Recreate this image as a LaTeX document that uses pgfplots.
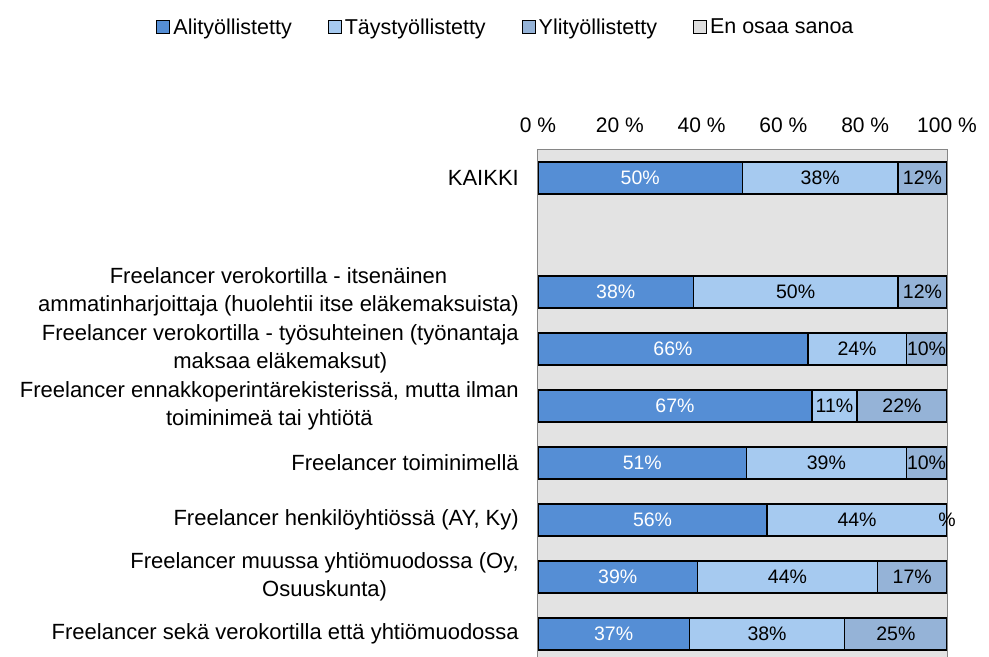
\documentclass[border=0pt]{standalone}
\usepackage{fontspec}
\setmainfont{Liberation Sans}
\usepackage{pgfplots}
\usepackage{pgfplotstable}
\pgfplotsset{compat=1.18}

\definecolor{ali}{RGB}{85,142,213}
\definecolor{tays}{RGB}{166,202,240}
\definecolor{yli}{RGB}{149,179,215}
\definecolor{eos}{RGB}{222,222,222}
\definecolor{bg}{RGB}{227,227,227}
\definecolor{frame}{RGB}{134,134,134}

% y: 0 = KAIKKI, 1 = empty row, 2..8 = freelancer groups
\pgfplotstableread{
y v lab
0 50 50
2 38 38
3 66 66
4 67 67
5 51 51
6 56 56
7 39 39
8 37 37
}\ali
\pgfplotstableread{
y v lab
0 38 38
2 50 50
3 24 24
4 11 11
5 39 39
6 44 44
7 44 44
8 38 38
}\tays
\pgfplotstableread{
y v lab
0 12 12
2 12 12
3 10 10
4 22 22
5 10 10
6 0 0
7 17 17
8 25 25
}\yli

\pgfplotsset{
  seg/.style={
    draw=black, line width=1.2pt,
    point meta=explicit symbolic,
    nodes near coords={\pgfplotspointmeta\%},
    nodes near coords style={anchor=center, font=\fontsize{19.5}{24}\selectfont},
  },
  sq/.style={legend image code/.code={
    \draw[fill=#1, draw=black, line width=1pt] (0pt,-6.5pt) rectangle (13pt,6.5pt);}},
}

\begin{document}
\begin{tikzpicture}
\begin{axis}[
  name=ax,
  xbar stacked,
  bar width=32pt,
  scale only axis,
  width=409pt, height=507.3pt,
  xmin=0, xmax=100,
  ymin=-0.5, ymax=8.4,
  y dir=reverse,
  clip=false,
  axis background/.style={fill=bg},
  axis line style={draw=none},
  major tick length=0pt,
  font=\fontsize{21}{28}\selectfont,
  xtick={0,20,40,60,80,100},
  xticklabels={0 \%,20 \%,40 \%,60 \%,80 \%,100 \%},
  xticklabel pos=right,
  xticklabel style={anchor=base, yshift=17pt, font=\fontsize{21}{28}\selectfont},
  ytick={0,2,3,4,5,6,7,8},
  yticklabels={
    KAIKKI,
    {Freelancer verokortilla - itsenäinen\\ammatinharjoittaja (huolehtii itse eläkemaksuista)},
    {Freelancer verokortilla - työsuhteinen (työnantaja\\maksaa eläkemaksut)},
    {Freelancer ennakkoperintärekisterissä, mutta ilman\\toiminimeä tai yhtiötä},
    Freelancer toiminimellä,
    Freelancer henkilöyhtiössä (AY{,} Ky),
    {Freelancer muussa yhtiömuodossa (Oy,\\Osuuskunta)},
    Freelancer sekä verokortilla että yhtiömuodossa},
  yticklabel style={align=center, anchor=east, inner sep=0pt, xshift=-19pt,
    font=\fontsize{22}{28.5}\selectfont},
  legend style={at={(axis description cs:-0.0807,1)}, anchor=center, yshift=122.5pt,
    draw=none, fill=none, legend columns=4,
    font=\fontsize{21.5}{26}\selectfont,
    nodes={inner sep=0pt},
    /tikz/every odd column/.append style={column sep=3pt},
    /tikz/every even column/.append style={column sep=36pt}},
]
\draw[frame, line width=1pt] (axis cs:0,8.4) -- (axis cs:0,-0.5)
  -- (axis cs:100,-0.5) -- (axis cs:100,8.4);

\addlegendimage{sq=ali}
\addlegendentry{Alityöllistetty}
\addlegendimage{sq=tays}
\addlegendentry{Täystyöllistetty}
\addlegendimage{sq=yli}
\addlegendentry{Ylityöllistetty}
\addlegendimage{sq=eos}
\addlegendentry{En osaa sanoa}

\addplot[seg, fill=ali, nodes near coords style={text=white}] table[x=v, y=y, meta=lab] {\ali};
\addplot[seg, fill=tays, nodes near coords style={text=black}] table[x=v, y=y, meta=lab] {\tays};
\addplot[seg, fill=yli, nodes near coords style={text=black}] table[x=v, y=y, meta=lab] {\yli};
\coordinate (zerolab) at (axis cs:100,6);
\end{axis}
% the 0 % label of the original shows only its per cent sign, over the bar
\node[font=\fontsize{19.5}{24}\selectfont] at (zerolab) {\%};
\pgfresetboundingbox
\useasboundingbox ([xshift=-538pt]ax.south west) rectangle ([xshift=42pt, yshift=149.5pt]ax.north east);
\end{tikzpicture}
\end{document}
